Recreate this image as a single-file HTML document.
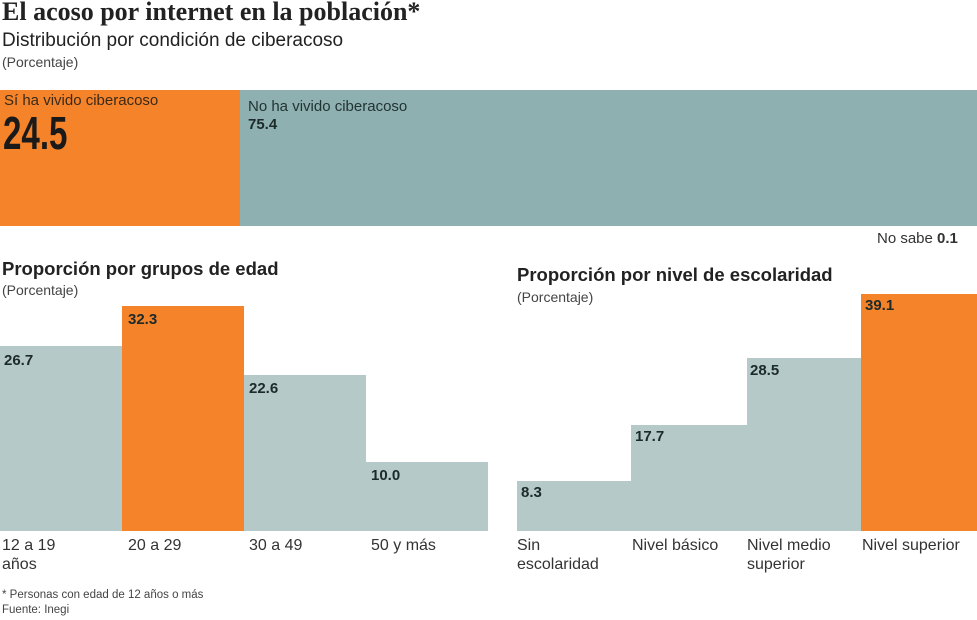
<!DOCTYPE html>
<html><head><meta charset="utf-8"><style>
body{margin:0;width:977px;height:620px;background:#fff;position:relative;overflow:hidden;font-family:"Liberation Sans",sans-serif;color:#222}
div{position:absolute}
.b{background:#b6c9c9}
.o{background:#f5832a}
.v{font-weight:bold;font-size:15px;color:#1c2a2a}
.l{font-size:16px;color:#333;line-height:19px}
</style></head><body>
<div style="left:2px;top:-3px;font-family:'Liberation Serif',serif;font-weight:bold;font-size:26px;color:#222;white-space:nowrap">El acoso por internet en la población*</div>
<div style="left:2px;top:30px;font-size:19px;color:#222">Distribución por condición de ciberacoso</div>
<div style="left:2px;top:54px;font-size:14px;color:#444">(Porcentaje)</div>
<div class="o" style="left:0;top:90px;width:240px;height:136px"></div>
<div style="left:240px;top:90px;width:737px;height:136px;background:#8fb0b0"></div>
<div style="left:4px;top:92px;font-size:15px;color:#3a2a1a">Sí ha vivido ciberacoso</div>
<div style="left:3px;top:106px;font-size:46px;font-weight:bold;color:#1a1a1a;transform:scaleX(0.72);transform-origin:left">24.5</div>
<div style="left:248px;top:98px;font-size:15px;color:#233">No ha vivido ciberacoso</div>
<div style="left:248px;top:116px;font-size:15px;font-weight:bold;color:#1c2a2a">75.4</div>
<div style="left:877px;top:230px;font-size:15px;color:#333;white-space:nowrap">No sabe <b>0.1</b></div>

<div style="left:2px;top:258px;font-size:18.5px;font-weight:bold;color:#222;white-space:nowrap">Proporción por grupos de edad</div>
<div style="left:2px;top:282px;font-size:14px;color:#444">(Porcentaje)</div>
<div class="b" style="left:0;top:346px;width:122px;height:185px"></div>
<div class="o" style="left:122px;top:306px;width:122px;height:225px"></div>
<div class="b" style="left:244px;top:375px;width:122px;height:156px"></div>
<div class="b" style="left:366px;top:462px;width:122px;height:69px"></div>
<div class="v" style="left:4px;top:352px">26.7</div>
<div class="v" style="left:128px;top:311px">32.3</div>
<div class="v" style="left:249px;top:380px">22.6</div>
<div class="v" style="left:371px;top:467px">10.0</div>
<div class="l" style="left:2px;top:536px">12 a 19<br>años</div>
<div class="l" style="left:128px;top:536px">20 a 29</div>
<div class="l" style="left:249px;top:536px">30 a 49</div>
<div class="l" style="left:371px;top:536px">50 y más</div>

<div style="left:517px;top:264px;font-size:18.5px;font-weight:bold;color:#222;white-space:nowrap">Proporción por nivel de escolaridad</div>
<div style="left:517px;top:289px;font-size:14px;color:#444">(Porcentaje)</div>
<div class="b" style="left:517px;top:481px;width:114px;height:50px"></div>
<div class="b" style="left:631px;top:425px;width:116px;height:106px"></div>
<div class="b" style="left:747px;top:358px;width:114px;height:173px"></div>
<div class="o" style="left:861px;top:294px;width:116px;height:237px"></div>
<div class="v" style="left:521px;top:484px">8.3</div>
<div class="v" style="left:635px;top:428px">17.7</div>
<div class="v" style="left:750px;top:362px">28.5</div>
<div class="v" style="left:865px;top:297px">39.1</div>
<div class="l" style="left:517px;top:536px">Sin<br>escolaridad</div>
<div class="l" style="left:632px;top:536px;white-space:nowrap">Nivel básico</div>
<div class="l" style="left:747px;top:536px">Nivel medio<br>superior</div>
<div class="l" style="left:862px;top:536px;white-space:nowrap">Nivel superior</div>

<div style="left:2px;top:588px;font-size:11.5px;color:#444;line-height:15px">* Personas con edad de 12 años o más<br>Fuente: Inegi</div>
</body></html>
